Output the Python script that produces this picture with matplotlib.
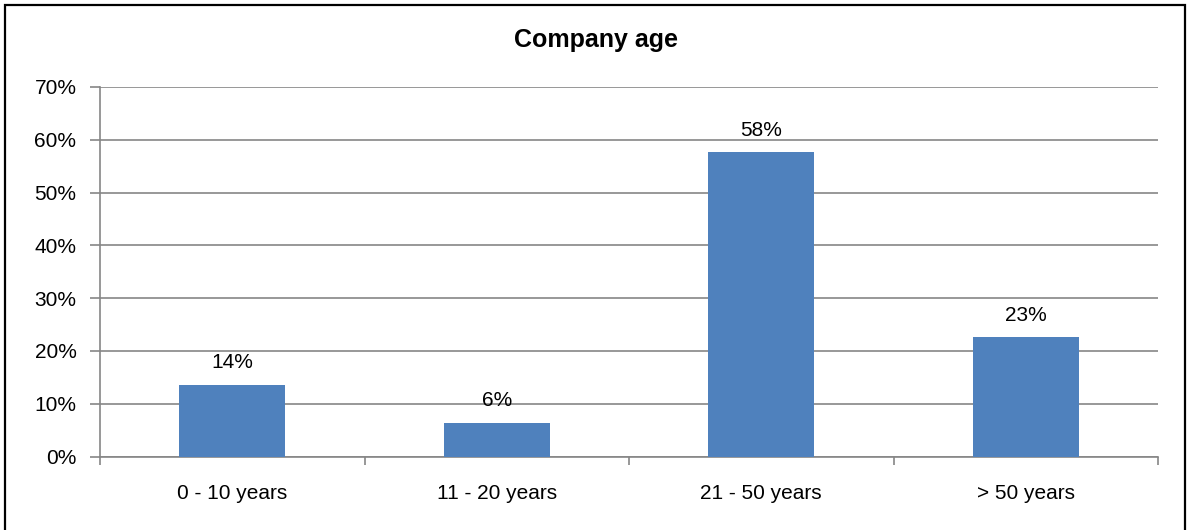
import matplotlib
matplotlib.use("Agg")
import matplotlib.pyplot as plt
from matplotlib.patches import Rectangle

categories = ["0 - 10 years", "11 - 20 years", "21 - 50 years", "> 50 years"]
shares = [13.6, 6.4, 57.6, 22.6]
y_ticks = [0, 10, 20, 30, 40, 50, 60, 70]
title = "Company age"

plt.rcParams["font.family"] = ["Liberation Sans", "DejaVu Sans"]

W, H = 1187, 530
fig = plt.figure(figsize=(W / 100, H / 100), dpi=100)
fig.patch.set_facecolor("white")

# outer frame around the whole chart (bottom edge runs past the canvas)
fig.add_artist(Rectangle((5 / W, -10 / H), (1185 - 5) / W, (525 + 10) / H,
                         transform=fig.transFigure, fill=False,
                         edgecolor="black", linewidth=1.6))

ax = fig.add_axes([100 / W, (H - 456.5) / H, (1158 - 100) / W, (456.5 - 87) / H])

grid_c = "#868686"
fs = 15
x = list(range(len(categories)))
ax.bar(x, shares, width=0.4, color="#4F81BD", zorder=3)

for xi, v in zip(x, shares):
    ax.annotate(f"{v:.0f}%", (xi, v), xytext=(0, 9), textcoords="offset points",
                ha="center", va="bottom", fontsize=fs, color="black")

ax.set_xlim(-0.5, len(categories) - 0.5)
ax.set_ylim(0, 70)
ax.set_yticks(y_ticks)
ax.set_yticklabels([f"{t}%" for t in y_ticks], fontsize=fs)
ax.yaxis.grid(True, color=grid_c, linewidth=1.2, zorder=0)
ax.set_axisbelow(True)

ax.set_xticks(x)
ax.set_xticklabels(categories, fontsize=fs)
ax.set_xticks([i - 0.5 for i in range(len(categories) + 1)], minor=True)
ax.tick_params(axis="x", which="major", length=0, pad=19.5)
ax.tick_params(axis="x", which="minor", length=6, color=grid_c, width=1.2)
ax.tick_params(axis="y", length=7, color=grid_c, width=1.2, pad=10)

for side in ["top", "right"]:
    ax.spines[side].set_visible(False)
for side in ["left", "bottom"]:
    ax.spines[side].set_color(grid_c)
    ax.spines[side].set_linewidth(1.2)

fig.text(596 / W, (H - 40) / H, title, ha="center", va="center",
         fontsize=18, fontweight="bold")

fig.savefig("out.png", dpi=100, facecolor="white")
